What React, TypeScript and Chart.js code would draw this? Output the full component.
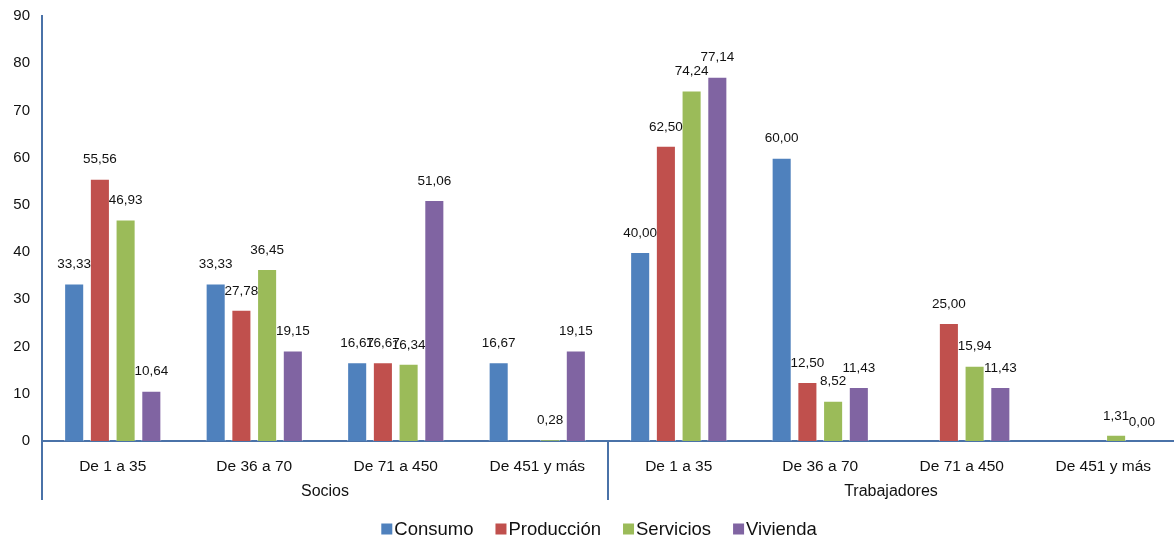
import React, { useEffect, useRef } from 'react';
import { Chart, registerables } from 'chart.js';

Chart.register(...registerables);

const categories = ['De 1 a 35', 'De 36 a 70', 'De 71 a 450', 'De 451 y más', 'De 1 a 35', 'De 36 a 70', 'De 71 a 450', 'De 451 y más'];
const groups = ['Socios', 'Trabajadores'];
const seriesNames = ['Consumo', 'Producción', 'Servicios', 'Vivienda'];
const consumo = [33.33, 33.33, 16.67, 16.67, 40.0, 60.0, null, null];
const produccion = [55.56, 27.78, 16.67, null, 62.5, 12.5, 25.0, null];
const servicios = [46.93, 36.45, 16.34, 0.28, 74.24, 8.52, 15.94, 1.31];
const vivienda = [10.64, 19.15, 51.06, 19.15, 77.14, 11.43, 11.43, 0.0];
const seriesColors = ['#4F81BD', '#C0504D', '#9BBB59', '#8064A2'];
const yMin = 0;
const yMax = 90;
const yStep = 10;

const FONT = "'Liberation Sans', Arial, sans-serif";
const AXIS_COLOR = '#4A72A8';
const TEXT = '#111';

const fmt = (v: number) => v.toFixed(2).replace('.', ',');

const labelsPlugin = {
  id: 'valueLabels',
  afterDatasetsDraw(chart: any) {
    const ctx = chart.ctx;
    ctx.save();
    ctx.font = `13.5px ${FONT}`;
    ctx.fillStyle = TEXT;
    ctx.textAlign = 'center';
    ctx.textBaseline = 'middle';
    chart.data.datasets.forEach((ds: any, di: number) => {
      const meta = chart.getDatasetMeta(di);
      meta.data.forEach((el: any, i: number) => {
        const v = ds.data[i];
        if (v === null || v === undefined) return;
        ctx.fillText(fmt(v), el.x, el.y - 19);
      });
    });
    ctx.restore();
  },
};

const groupPlugin = {
  id: 'groupAxis',
  afterDraw(chart: any) {
    const ctx = chart.ctx;
    const area = chart.chartArea;
    const xScale = chart.scales.x;
    const n = categories.length;
    const per = n / groups.length;
    const bottom = area.bottom + 59;
    ctx.save();
    ctx.strokeStyle = AXIS_COLOR;
    ctx.lineWidth = 2;
    const step = (area.right - area.left) / n;
    for (let g = 0; g < groups.length; g++) {
      const x = area.left + g * per * step;
      ctx.beginPath();
      ctx.moveTo(x, area.bottom);
      ctx.lineTo(x, bottom);
      ctx.stroke();
    }
    ctx.font = `16px ${FONT}`;
    ctx.fillStyle = TEXT;
    ctx.textAlign = 'center';
    ctx.textBaseline = 'middle';
    groups.forEach((gName, g) => {
      const x0 = xScale.getPixelForValue(g * per);
      const x1 = xScale.getPixelForValue(g * per + per - 1);
      ctx.fillText(gName, (x0 + x1) / 2, area.bottom + 51);
    });

    // legend
    ctx.font = `18.5px ${FONT}`;
    ctx.textAlign = 'left';
    const box = 11;
    const gap = 2;
    const spacing = 22;
    const widths = chart.data.datasets.map((ds: any) => box + gap + ctx.measureText(ds.label).width);
    const total = widths.reduce((a: number, b: number) => a + b, 0) + spacing * (widths.length - 1);
    let x = chart.width / 2 + 12 - total / 2;
    const y = area.bottom + 88;
    chart.data.datasets.forEach((ds: any, i: number) => {
      ctx.fillStyle = ds.backgroundColor;
      ctx.fillRect(x, y - box / 2, box, box);
      ctx.fillStyle = TEXT;
      ctx.fillText(ds.label, x + box + gap, y + 1);
      x += widths[i] + spacing;
    });
    ctx.restore();
  },
};

export default function App() {
  const ref = useRef<HTMLCanvasElement>(null);
  useEffect(() => {
    if (!ref.current) return;
    const values = [consumo, produccion, servicios, vivienda];
    const chart = new Chart(ref.current, {
      type: 'bar',
      data: {
        labels: categories,
        datasets: seriesNames.map((name, i) => ({
          label: name,
          data: values[i],
          backgroundColor: seriesColors[i],
          borderColor: 'rgba(255,255,255,0.5)',
          borderWidth: 1,
          categoryPercentage: 0.727,
          barPercentage: 0.78,
        })),
      },
      options: {
        responsive: false,
        animation: false,
        layout: { padding: { top: 16, right: 0, bottom: 0, left: 0 } },
        plugins: {
          legend: { display: false },
          tooltip: { enabled: false },
        },
        scales: {
          x: {
            grid: { display: false, drawTicks: false },
            border: { display: true, color: AXIS_COLOR, width: 2 },
            ticks: { padding: 16, color: TEXT, font: { size: 15.5, family: FONT }, maxRotation: 0, autoSkip: false },
            afterFit(scale: any) {
              scale.height = 98;
            },
          },
          y: {
            min: yMin,
            max: yMax,
            grid: { display: false, drawTicks: false },
            border: { display: true, color: AXIS_COLOR, width: 2 },
            ticks: { stepSize: yStep, padding: 12, color: TEXT, font: { size: 15, family: FONT } },
            afterFit(scale: any) {
              scale.width = 42;
              scale.paddingTop = 0;
              scale.paddingBottom = 0;
            },
          },
        },
      },
      plugins: [labelsPlugin, groupPlugin],
    } as any);
    return () => chart.destroy();
  }, []);
  return (
    <div style={{ position: 'fixed', left: 0, top: 0, width: 1174, height: 539, background: '#fff' }}>
      <canvas ref={ref} width={1174} height={539} />
    </div>
  );
}
